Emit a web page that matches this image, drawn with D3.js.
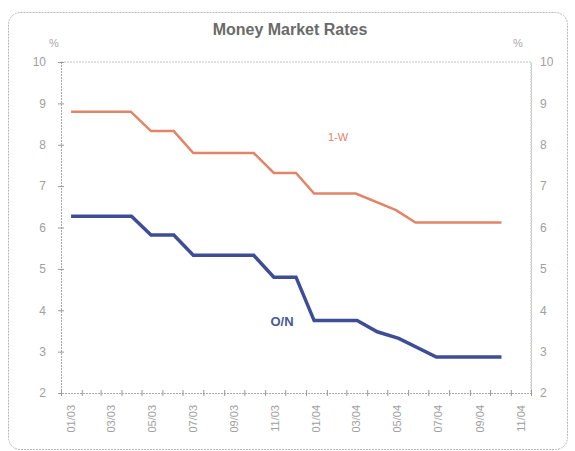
<!DOCTYPE html>
<html>
<head>
<meta charset="utf-8">
<script src="https://cdn.jsdelivr.net/npm/d3@7"></script>
<style>
  body { margin: 0; background: #fff; }
  text { font-family: "Liberation Sans", Arial, sans-serif; }
</style>
</head>
<body>
<div id="chart"></div>
<script>
const FRAME_WIDTH = 575;
const FRAME_HEIGHT = 451;
const MARGINS = { left: 61, right: 44, top: 62, bottom: 58 };

// data: breakpoints of the two step-like rate series
const dates_1w = ["2003-01-16", "2003-04-15", "2003-05-15", "2003-06-18", "2003-07-17",
  "2003-10-15", "2003-11-14", "2003-12-17", "2004-01-13", "2004-03-15", "2004-05-14",
  "2004-06-12", "2004-10-18"];
const values_1w = [8.8, 8.8, 8.33, 8.33, 7.8, 7.8, 7.32, 7.32, 6.82, 6.82, 6.42, 6.12, 6.12];

const dates_on = ["2003-01-16", "2003-04-16", "2003-05-15", "2003-06-18", "2003-07-17",
  "2003-10-15", "2003-11-14", "2003-12-17", "2004-01-13", "2004-03-17", "2004-04-16",
  "2004-05-18", "2004-07-13", "2004-10-18"];
const values_on = [6.27, 6.27, 5.82, 5.82, 5.33, 5.33, 4.8, 4.8, 3.75, 3.75, 3.48, 3.32, 2.87, 2.87];

const y_ticks = [2, 3, 4, 5, 6, 7, 8, 9, 10];
const x_labels = ["01/03", "03/03", "05/03", "07/03", "09/03", "11/03",
  "01/04", "03/04", "05/04", "07/04", "09/04", "11/04"];

let parse = d3.timeParse("%Y-%m-%d");
let parseLabel = d3.timeParse("%m/%y");

let plot_width = FRAME_WIDTH - MARGINS.left - MARGINS.right;
let plot_height = FRAME_HEIGHT - MARGINS.top - MARGINS.bottom;

let svg = d3.select("#chart").append("svg")
  .attr("width", FRAME_WIDTH)
  .attr("height", FRAME_HEIGHT);

// outer rounded frame
svg.append("rect")
  .attr("x", 8.5).attr("y", 12.5)
  .attr("width", 559).attr("height", 437)
  .attr("rx", 12)
  .attr("fill", "none")
  .attr("stroke", "#b8b8b8")
  .attr("stroke-dasharray", "2,1");

let x = d3.scaleTime()
  .domain([new Date(2003, 0, 1), new Date(2004, 11, 1)])
  .range([0, plot_width]);
let y = d3.scaleLinear()
  .domain([2, 10])
  .range([plot_height, 0]);

let g = svg.append("g")
  .attr("transform", "translate(" + MARGINS.left + "," + MARGINS.top + ")");

// plot border (top / right)
g.append("path")
  .attr("d", "M0,0H" + plot_width + "V" + plot_height)
  .attr("fill", "none")
  .attr("stroke", "#c4c4c4")
  .attr("stroke-dasharray", "2,1");

// left axis
let left = g.append("g").call(d3.axisLeft(y).tickValues(y_ticks).tickSize(3).tickPadding(12));
// right axis
let right = g.append("g").attr("transform", "translate(" + plot_width + ",0)")
  .call(d3.axisRight(y).tickValues(y_ticks).tickSize(0).tickPadding(9));
// bottom axis, monthly ticks
let bottom = g.append("g").attr("transform", "translate(0," + plot_height + ")")
  .call(d3.axisBottom(x).ticks(d3.timeMonth.every(1)).tickSize(3).tickFormat(""));

[left, right, bottom].forEach(function(a) {
  a.select(".domain").attr("stroke", "#a8a8a8").attr("stroke-dasharray", "2,1");
  a.selectAll(".tick line").attr("stroke", "#999");
  a.selectAll("text").attr("fill", "#a0a0a0").style("font-size", "12px");
});
left.selectAll(".tick line").attr("x1", 3);
right.select(".domain").attr("stroke", "#c4c4c4");
bottom.selectAll(".tick line").attr("y1", -3);

// rotated month labels at month centres
g.selectAll(".xlabel")
  .data(x_labels)
  .enter()
  .append("text")
  .attr("class", "xlabel")
  .attr("transform", function(d) {
    let m = parseLabel(d);
    let cx = x(new Date(m.getTime() + 15 * 24 * 3600 * 1000));
    return "translate(" + (cx + 4) + "," + (plot_height + 12) + ") rotate(-90)";
  })
  .attr("text-anchor", "end")
  .attr("fill", "#a0a0a0")
  .style("font-size", "11px")
  .text(function(d) { return d; });

// % units
svg.append("text").attr("x", 54).attr("y", 47).attr("text-anchor", "middle")
  .attr("fill", "#a8a8a8").style("font-size", "11px").text("%");
svg.append("text").attr("x", 518).attr("y", 47).attr("text-anchor", "middle")
  .attr("fill", "#a8a8a8").style("font-size", "11px").text("%");

// title
svg.append("text")
  .attr("x", 290).attr("y", 35)
  .attr("text-anchor", "middle")
  .attr("fill", "#6a6a6a")
  .style("font-size", "16px")
  .style("font-weight", "bold")
  .text("Money Market Rates");

let line = d3.line()
  .x(function(d) { return x(d.date); })
  .y(function(d) { return y(d.value); });

let series_1w = dates_1w.map(function(d, i) { return { date: parse(d), value: values_1w[i] }; });
let series_on = dates_on.map(function(d, i) { return { date: parse(d), value: values_on[i] }; });

g.append("path")
  .datum(series_1w)
  .attr("d", line)
  .attr("fill", "none")
  .attr("stroke", "#e28468")
  .attr("stroke-width", 2.5);

g.append("path")
  .datum(series_on)
  .attr("d", line)
  .attr("fill", "none")
  .attr("stroke", "#3d4e96")
  .attr("stroke-width", 3.5);

// series labels
svg.append("text").attr("x", 338).attr("y", 141).attr("text-anchor", "middle")
  .attr("fill", "#e0806a").style("font-size", "11px").text("1-W");
svg.append("text").attr("x", 282).attr("y", 326).attr("text-anchor", "middle")
  .attr("fill", "#4a5a96").style("font-size", "13px").style("font-weight", "bold").text("O/N");
</script>
</body>
</html>
